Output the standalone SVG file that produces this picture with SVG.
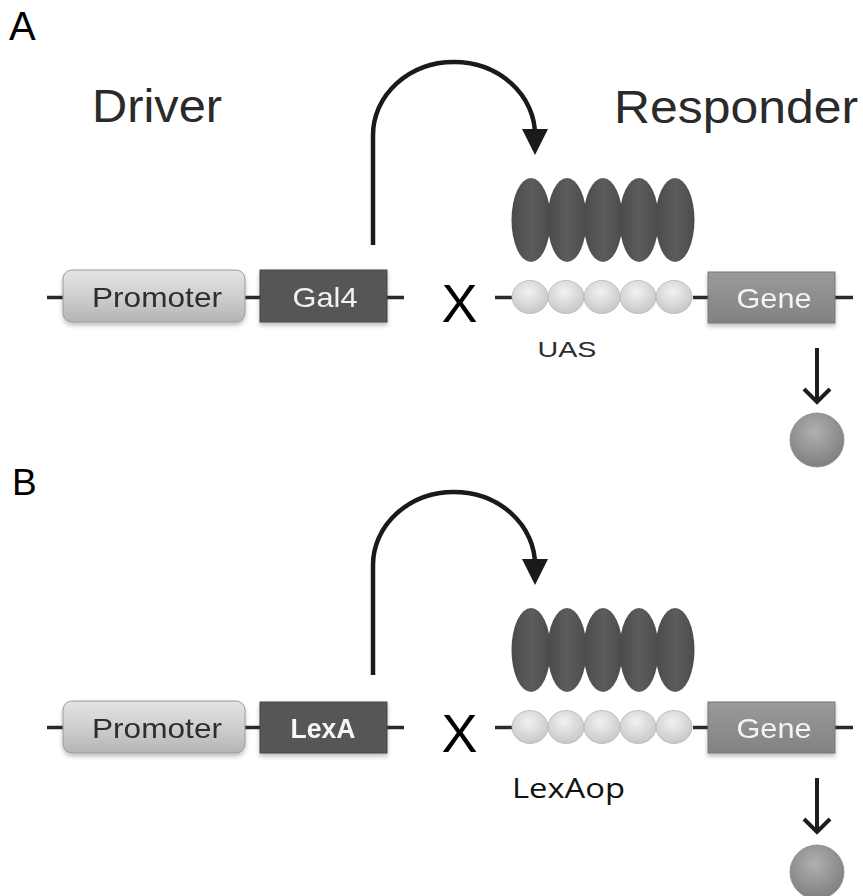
<svg xmlns="http://www.w3.org/2000/svg" width="863" height="896" viewBox="0 0 863 896">
<style>
.lbl{font-family:"Liberation Sans",Arial,sans-serif;fill:#000}
.hd{font-family:"Liberation Sans",Arial,sans-serif;font-size:46px;fill:#2a2a2a}
.bt{font-family:"Liberation Sans",Arial,sans-serif;font-size:28px;text-anchor:middle}
.dna{stroke:#2a2a2a;stroke-width:3.5;fill:none}
.arc{stroke:#1a1a1a;stroke-width:4.5;fill:none}
.dn{stroke:#1e1e1e;stroke-width:4;fill:none}
.prom{fill:url(#gProm);stroke:#9a9a9a;stroke-width:1}
.drv{fill:#575757;stroke:#444;stroke-width:1}
.gene{fill:url(#gGene);stroke:#777;stroke-width:1}
.ell{fill:url(#gEll)}
.bead{fill:url(#gBead);stroke:#b5b5b5;stroke-width:0.8}
.prod{fill:url(#gProd);stroke:#8a8a8a;stroke-width:0.8}
</style>
<defs>
<linearGradient id="gProm" x1="0" y1="0" x2="0" y2="1">
<stop offset="0" stop-color="#e4e4e4"/><stop offset="0.5" stop-color="#cfcfcf"/><stop offset="1" stop-color="#b4b4b4"/>
</linearGradient>
<linearGradient id="gGene" x1="0" y1="0" x2="0" y2="1">
<stop offset="0" stop-color="#9a9a9a"/><stop offset="1" stop-color="#828282"/>
</linearGradient>
<linearGradient id="gEll" x1="0" y1="0" x2="1" y2="0">
<stop offset="0" stop-color="#4a4a4a"/><stop offset="0.5" stop-color="#5c5c5c"/><stop offset="1" stop-color="#4c4c4c"/>
</linearGradient>
<radialGradient id="gBead" cx="0.45" cy="0.35" r="0.7">
<stop offset="0" stop-color="#f2f2f2"/><stop offset="1" stop-color="#c4c4c4"/>
</radialGradient>
<radialGradient id="gProd" cx="0.45" cy="0.35" r="0.7">
<stop offset="0" stop-color="#b0b0b0"/><stop offset="1" stop-color="#7c7c7c"/>
</radialGradient>
<filter id="sh" x="-10%" y="-10%" width="120%" height="140%">
<feDropShadow dx="0" dy="3" stdDeviation="2" flood-color="#000" flood-opacity="0.25"/>
</filter>
<marker id="tri" viewBox="0 0 26 26" refX="12" refY="13" markerWidth="26" markerHeight="26" markerUnits="userSpaceOnUse" orient="auto">
<path d="M0,0 L26,13 L0,26 z" fill="#1a1a1a"/>
</marker>
<marker id="chev" viewBox="-3 -3 20 32" refX="13" refY="13" markerWidth="20" markerHeight="32" markerUnits="userSpaceOnUse" orient="auto" overflow="visible">
<path d="M0,0 L13,13 L0,26" fill="none" stroke="#1e1e1e" stroke-width="4"/>
</marker>
</defs>
<rect width="863" height="896" fill="#fff"/>

<!-- Panel labels and titles -->
<text class="lbl" x="9" y="40" font-size="40">A</text>
<text class="lbl" x="12" y="495" font-size="37">B</text>
<text class="hd" x="92" y="122" textLength="130" lengthAdjust="spacingAndGlyphs">Driver</text>
<text class="hd" x="614" y="123" textLength="244" lengthAdjust="spacingAndGlyphs">Responder</text>

<!-- Connectors -->
<g id="connectors">
<path class="dna" d="M47,297.5 H63 M245,297.5 H260 M387,297.5 H404 M495,297.5 H512 M693,297.5 H708 M835,297.5 H853"/>
<path class="dna" d="M47,727.5 H63 M245,727.5 H260 M387,727.5 H404 M495,727.5 H512 M693,727.5 H708 M835,727.5 H853"/>
<path class="arc" d="M373,245 V135 A81,73 0 0 1 535,135 V141" marker-end="url(#tri)"/>
<path class="arc" d="M373,675 V565 A81,73 0 0 1 535,565 V571" marker-end="url(#tri)"/>
<path class="dn" d="M817,348 V402" marker-end="url(#chev)"/>
<path class="dn" d="M817,778 V832" marker-end="url(#chev)"/>
</g>

<!-- Panel A nodes -->
<g id="promoterA" filter="url(#sh)">
<rect class="prom" x="63" y="270" width="182" height="52" rx="9"/>
<text class="bt" x="157" y="307" fill="#2e2e2e" textLength="130" lengthAdjust="spacingAndGlyphs">Promoter</text>
</g>
<g id="gal4" filter="url(#sh)">
<rect class="drv" x="260" y="270" width="127" height="52"/>
<text class="bt" x="325" y="307" fill="#f2f2f2" textLength="65" lengthAdjust="spacingAndGlyphs">Gal4</text>
</g>
<text id="crossA" class="lbl" x="459.5" y="322" font-size="54" text-anchor="middle" fill="#111">X</text>
<g id="gal4Proteins">
<ellipse class="ell" cx="531" cy="220" rx="19.5" ry="42"/>
<ellipse class="ell" cx="567" cy="220" rx="19.5" ry="42"/>
<ellipse class="ell" cx="603" cy="220" rx="19.5" ry="42"/>
<ellipse class="ell" cx="639" cy="220" rx="19.5" ry="42"/>
<ellipse class="ell" cx="675" cy="220" rx="19.5" ry="42"/>
</g>
<g id="uas">
<ellipse class="bead" cx="530" cy="297" rx="18" ry="16.5"/>
<ellipse class="bead" cx="566" cy="297" rx="18" ry="16.5"/>
<ellipse class="bead" cx="602" cy="297" rx="18" ry="16.5"/>
<ellipse class="bead" cx="638" cy="297" rx="18" ry="16.5"/>
<ellipse class="bead" cx="674" cy="297" rx="18" ry="16.5"/>
<text x="567" y="357" font-family="Liberation Sans, Arial, sans-serif" font-size="22" fill="#2e2e2e" text-anchor="middle" textLength="59" lengthAdjust="spacingAndGlyphs">UAS</text>
</g>
<g id="geneA" filter="url(#sh)">
<rect class="gene" x="708" y="272" width="127" height="51"/>
<text class="bt" x="774" y="308" fill="#f4f4f4" textLength="75" lengthAdjust="spacingAndGlyphs">Gene</text>
</g>
<g id="productA">
<circle class="prod" cx="817" cy="440" r="27"/>
</g>

<!-- Panel B nodes -->
<g id="promoterB" filter="url(#sh)">
<rect class="prom" x="63" y="701" width="182" height="52" rx="9"/>
<text class="bt" x="157" y="738" fill="#2e2e2e" textLength="130" lengthAdjust="spacingAndGlyphs">Promoter</text>
</g>
<g id="lexA" filter="url(#sh)">
<rect class="drv" x="260" y="702" width="127" height="51"/>
<text class="bt" x="323" y="738" fill="#f6f6f6" font-weight="bold" textLength="65" lengthAdjust="spacingAndGlyphs">LexA</text>
</g>
<text id="crossB" class="lbl" x="459.5" y="752" font-size="54" text-anchor="middle" fill="#111">X</text>
<g id="lexAProteins">
<ellipse class="ell" cx="531" cy="650" rx="19.5" ry="42"/>
<ellipse class="ell" cx="567" cy="650" rx="19.5" ry="42"/>
<ellipse class="ell" cx="603" cy="650" rx="19.5" ry="42"/>
<ellipse class="ell" cx="639" cy="650" rx="19.5" ry="42"/>
<ellipse class="ell" cx="675" cy="650" rx="19.5" ry="42"/>
</g>
<g id="lexAop">
<ellipse class="bead" cx="530" cy="727" rx="18" ry="16.5"/>
<ellipse class="bead" cx="566" cy="727" rx="18" ry="16.5"/>
<ellipse class="bead" cx="602" cy="727" rx="18" ry="16.5"/>
<ellipse class="bead" cx="638" cy="727" rx="18" ry="16.5"/>
<ellipse class="bead" cx="674" cy="727" rx="18" ry="16.5"/>
<text x="512" y="798" font-family="Open Sans, Liberation Sans, sans-serif" font-size="28" fill="#111" textLength="113" lengthAdjust="spacingAndGlyphs">LexAop</text>
</g>
<g id="geneB" filter="url(#sh)">
<rect class="gene" x="708" y="702" width="127" height="51"/>
<text class="bt" x="774" y="738" fill="#f4f4f4" textLength="75" lengthAdjust="spacingAndGlyphs">Gene</text>
</g>
<g id="productB">
<circle class="prod" cx="817" cy="872" r="27"/>
</g>
</svg>
